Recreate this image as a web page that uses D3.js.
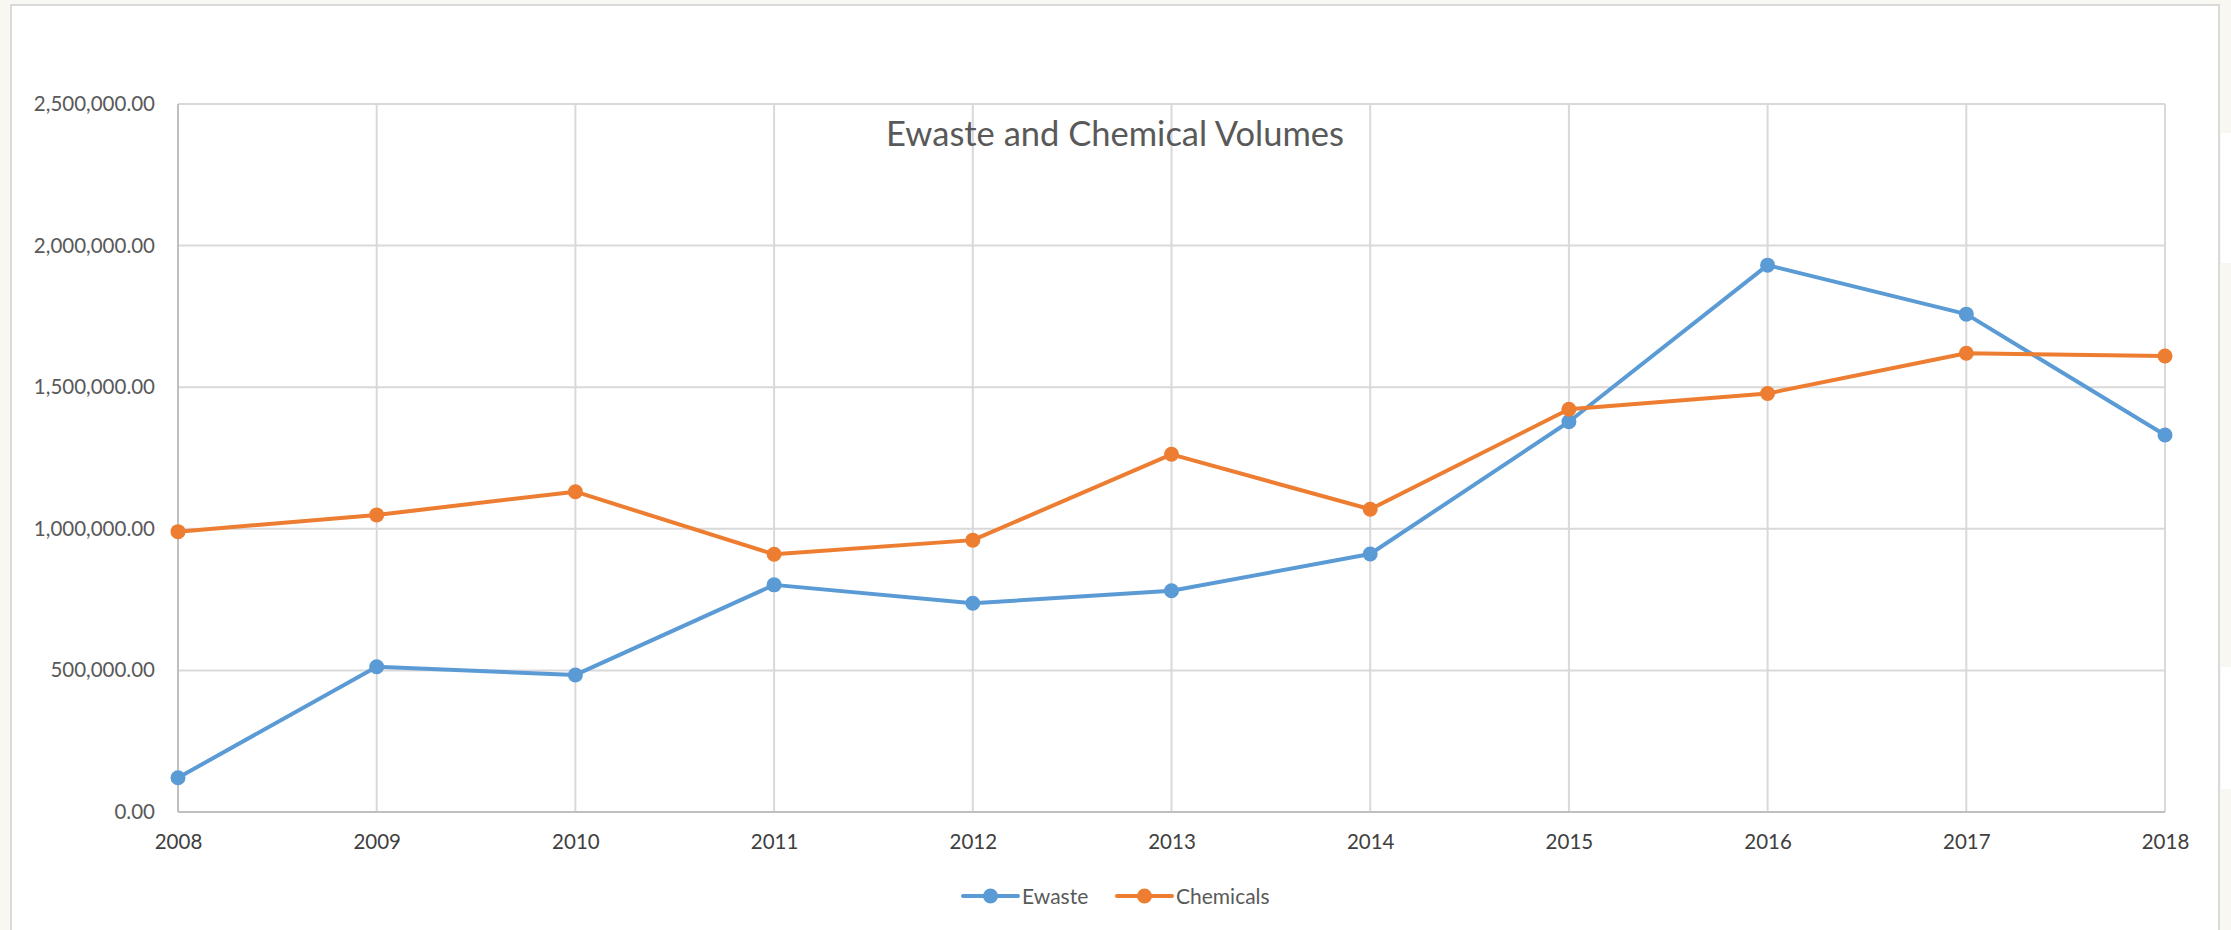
<!DOCTYPE html>
<html>
<head>
<meta charset="utf-8">
<script src="https://cdn.jsdelivr.net/npm/d3@7"></script>
<style>
  html, body { margin: 0; padding: 0; background: #f8f7f1; overflow: hidden; }
  svg { display: block; }
  text { font-family: Lato, "Open Sans", sans-serif; }
</style>
</head>
<body>
<svg id="chart" width="2231" height="930"></svg>
<script>
const years = [2008, 2009, 2010, 2011, 2012, 2013, 2014, 2015, 2016, 2017, 2018];
const ewaste = [121000, 513000, 484000, 802000, 737000, 781000, 911000, 1378000, 1931000, 1758000, 1331000];
const chemicals = [990000, 1049000, 1131000, 910000, 960000, 1263000, 1069000, 1422000, 1478000, 1620000, 1610000];
const yTicks = [0, 500000, 1000000, 1500000, 2000000, 2500000];
const seriesNames = ["Ewaste", "Chemicals"];
const seriesColors = ["#5b9bd5", "#ed7d31"];
const title = "Ewaste and Chemical Volumes";

const svg = d3.select("#chart");

// side bands at right edge
svg.append("rect").attr("x", 2221).attr("y", 133).attr("width", 10).attr("height", 130).attr("fill", "#ffffff");
svg.append("rect").attr("x", 2221).attr("y", 667).attr("width", 10).attr("height", 122).attr("fill", "#ffffff");

// chart box
const box = {x: 11, y: 5, w: 2208, h: 940};
svg.append("rect").attr("x", box.x).attr("y", box.y).attr("width", box.w).attr("height", box.h)
  .attr("fill", "#ffffff").attr("stroke", "#d9d9d9").attr("stroke-width", 2);

const plot = {left: 178, right: 2165, top: 104, bottom: 812};
const x = d3.scalePoint().domain(years).range([plot.left, plot.right]);
const y = d3.scaleLinear().domain([0, 2500000]).range([plot.bottom, plot.top]);

// horizontal gridlines
svg.append("g").selectAll("line").data(yTicks).join("line")
  .attr("x1", plot.left).attr("x2", plot.right)
  .attr("y1", d => y(d)).attr("y2", d => y(d))
  .attr("stroke", "#d9d9d9").attr("stroke-width", 2);

// vertical gridlines
svg.append("g").selectAll("line").data(years).join("line")
  .attr("x1", d => x(d)).attr("x2", d => x(d))
  .attr("y1", plot.top).attr("y2", plot.bottom)
  .attr("stroke", d => d === years[0] ? "#bfbfbf" : "#d9d9d9").attr("stroke-width", 2);

// bottom axis line
svg.append("line").attr("x1", plot.left).attr("x2", plot.right)
  .attr("y1", plot.bottom).attr("y2", plot.bottom)
  .attr("stroke", "#bfbfbf").attr("stroke-width", 2);

// y axis labels
const fmt = d3.format(",.2f");
const yAxis = d3.axisLeft(y).tickValues(yTicks).tickFormat(fmt).tickSize(0).tickPadding(23);
const gy = svg.append("g").attr("transform", `translate(${plot.left},0)`).call(yAxis);
gy.select(".domain").remove();
gy.selectAll("text").attr("fill", "#595959").style("font-size", "20.5px").style("font-family", "Lato, sans-serif");

// x axis labels
const xAxis = d3.axisBottom(x).tickSize(0).tickPadding(22);
const gx = svg.append("g").attr("transform", `translate(0,${plot.bottom})`).call(xAxis);
gx.select(".domain").remove();
gx.selectAll("text").attr("fill", "#404040").style("font-size", "20.5px").style("font-family", "Lato, sans-serif");

// title
svg.append("text").attr("x", box.x + box.w / 2).attr("y", 146)
  .attr("text-anchor", "middle").attr("fill", "#595959")
  .style("font-size", "34.5px").text(title);

// series
const data = [ewaste, chemicals];
const line = d3.line().x((d, i) => x(years[i])).y(d => y(d));
data.forEach((vals, k) => {
  const g = svg.append("g");
  g.append("path").datum(vals).attr("d", line).attr("fill", "none")
    .attr("stroke", seriesColors[k]).attr("stroke-width", 4).attr("stroke-linejoin", "round");
  g.selectAll("circle").data(vals).join("circle")
    .attr("cx", (d, i) => x(years[i])).attr("cy", d => y(d)).attr("r", 7.5)
    .attr("fill", seriesColors[k]);
});

// legend
const legendY = 896;
const legendItems = [{x: 963}, {x: 1117}];
seriesNames.forEach((name, k) => {
  const lx = legendItems[k].x;
  const g = svg.append("g");
  g.append("line").attr("x1", lx).attr("x2", lx + 55).attr("y1", legendY).attr("y2", legendY)
    .attr("stroke", seriesColors[k]).attr("stroke-width", 4).attr("stroke-linecap", "round");
  g.append("circle").attr("cx", lx + 27.5).attr("cy", legendY).attr("r", 7.5).attr("fill", seriesColors[k]);
  g.append("text").attr("x", lx + 59).attr("y", legendY + 7.5).attr("fill", "#595959")
    .style("font-size", "21px").text(name);
});
</script>
</body>
</html>
